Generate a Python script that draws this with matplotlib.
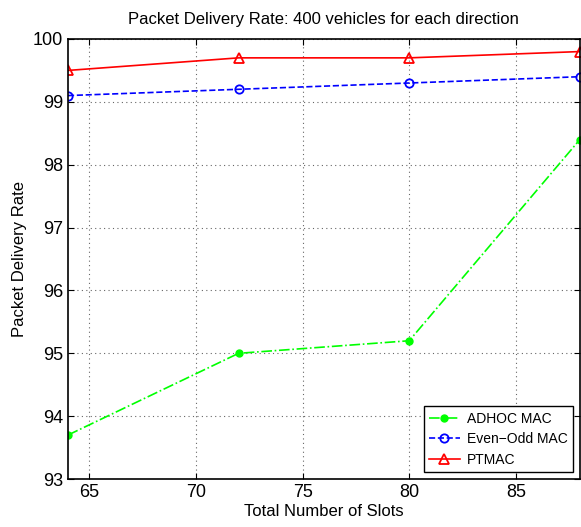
import matplotlib
matplotlib.use("Agg")
import matplotlib.pyplot as plt

slots = [64, 72, 80, 88]
adhoc = [93.7, 95.0, 95.2, 98.4]
evenodd = [99.1, 99.2, 99.3, 99.4]
ptmac = [99.5, 99.7, 99.7, 99.8]

plt.rcParams['font.family'] = ['Liberation Sans', 'DejaVu Sans']

fig = plt.figure(figsize=(5.81, 5.27), dpi=100)
ax = fig.add_axes([0.117, 0.091, 0.881, 0.835])

ax.plot(slots, adhoc, color='#00ff00', linestyle='-.', marker='.', markersize=10, linewidth=1.2, label='ADHOC MAC')
ax.plot(slots, evenodd, color='blue', linestyle='--', marker='o', markersize=6, markerfacecolor='none', markeredgewidth=1.3, linewidth=1.2, label='Even\u2212Odd MAC')
ax.plot(slots, ptmac, color='red', linestyle='-', marker='^', markersize=7, markerfacecolor='none', markeredgewidth=1.3, linewidth=1.2, label='PTMAC')

ax.set_xlim(64, 88)
ax.set_ylim(93, 100)
ax.set_xticks([65, 70, 75, 80, 85])
ax.set_yticks([93, 94, 95, 96, 97, 98, 99, 100])
ax.tick_params(direction='in', labelsize=13, length=4, top=True, right=True)
ax.grid(True, linestyle=(0, (1, 3)), color='black', linewidth=0.8, alpha=0.6)
for s in ax.spines.values():
    s.set_linewidth(1.2)

ax.set_xlabel('Total Number of Slots', fontsize=12, labelpad=2)
ax.set_ylabel('Packet Delivery Rate', fontsize=12)
ax.set_title('Packet Delivery Rate: 400 vehicles for each direction', fontsize=12, pad=11)

leg = ax.legend(loc='lower right', fontsize=10, fancybox=False, framealpha=1, edgecolor='black',
                borderaxespad=0.5, handlelength=2.2, handletextpad=0.5, labelspacing=0.45)
leg.get_frame().set_linewidth(1.0)

fig.savefig('out.png', dpi=100)
